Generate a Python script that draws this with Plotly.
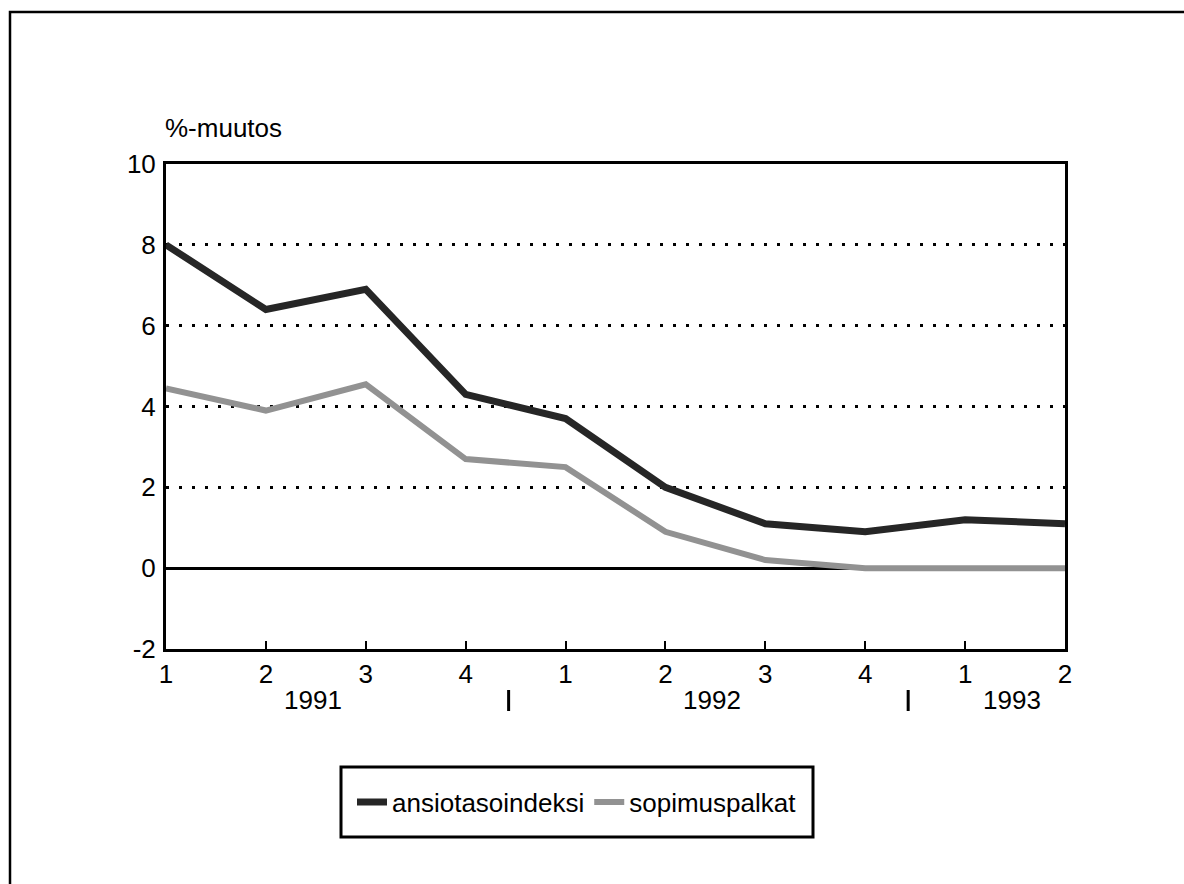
import plotly.graph_objects as go

# ---- data ----
quarters = ["1", "2", "3", "4", "1", "2", "3", "4", "1", "2"]
years = ["1991", "1992", "1993"]
ansiotasoindeksi = [8.0, 6.4, 6.9, 4.3, 3.7, 2.0, 1.1, 0.9, 1.2, 1.1]
sopimuspalkat = [4.45, 3.9, 4.55, 2.7, 2.5, 0.9, 0.2, 0.0, 0.0, 0.0]
y_ticks = [-2, 0, 2, 4, 6, 8, 10]
y_ticklabels = ["-2", "0", "2", "4", "6", "8", "10"]
y_title = "%-muutos"

xpos = list(range(len(quarters)))

FONT = "Liberation Sans, Arial, Helvetica, sans-serif"

# plot area in pixels
W, H = 1184, 884
L, R, T, B = 166, 1065, 164, 649
pw, ph = R - L, B - T


def px(xp):
    return (xp - L) / pw


def py(yp):
    return (B - yp) / ph


fig = go.Figure()
fig.add_trace(go.Scatter(
    x=xpos, y=ansiotasoindeksi, mode="lines", name="ansiotasoindeksi",
    line=dict(color="#262626", width=7),
))
fig.add_trace(go.Scatter(
    x=xpos, y=sopimuspalkat, mode="lines", name="sopimuspalkat",
    line=dict(color="#929292", width=6),
))

fig.update_layout(
    width=W, height=H,
    margin=dict(l=L, r=W - R, t=T, b=H - B, pad=0),
    paper_bgcolor="white", plot_bgcolor="white",
    font=dict(family=FONT, size=26, color="black"),
    showlegend=True,
    legend=dict(
        orientation="h", x=px(577), xanchor="center", y=py(802), yanchor="middle",
        bgcolor="rgba(0,0,0,0)", borderwidth=0,
        font=dict(size=26, family=FONT), itemwidth=30, traceorder="normal",
    ),
    xaxis=dict(
        range=[0, len(quarters) - 1], tickvals=xpos, ticktext=quarters,
        ticks="inside", ticklen=8, tickwidth=2, tickcolor="black",
        showline=True, linewidth=3, linecolor="black", mirror=True,
        showgrid=False, zeroline=False, ticklabelstandoff=0,
        tickfont=dict(size=26),
    ),
    yaxis=dict(
        range=[-2, 10], tickvals=y_ticks, ticktext=y_ticklabels, ticks="",
        showline=True, linewidth=3, linecolor="black", mirror=True,
        showgrid=True, gridcolor="black", gridwidth=2.5, griddash="3px,10px",
        zeroline=True, zerolinecolor="black", zerolinewidth=3,
        ticklabelstandoff=2, tickfont=dict(size=26),
    ),
)

# axis title "%-muutos"
fig.add_annotation(
    text=y_title, xref="paper", yref="paper", x=px(163), y=py(128),
    xanchor="left", yanchor="middle", showarrow=False, font=dict(size=26),
)

# year labels and separators under the quarter ticks
year_x = [1.47, 5.47, 8.47]
for yr, xv in zip(years, year_x):
    fig.add_annotation(text=yr, x=xv, xref="x", y=py(700), yref="paper",
                       showarrow=False, xanchor="center", yanchor="middle",
                       font=dict(size=26))
for xv in [3.43, 7.43]:
    fig.add_shape(type="line", xref="x", yref="paper", x0=xv, x1=xv,
                  y0=py(690), y1=py(711), line=dict(color="black", width=3))

# legend box
fig.add_shape(type="rect", xref="paper", yref="paper",
              x0=px(341), x1=px(813), y0=py(767), y1=py(837),
              line=dict(color="black", width=3), fillcolor="rgba(0,0,0,0)")

# outer frame
fig.add_shape(type="rect", xref="paper", yref="paper",
              x0=px(10), x1=px(1195), y0=py(12), y1=py(895),
              line=dict(color="black", width=2.5), fillcolor="rgba(0,0,0,0)")

fig.write_html("out.html", config={"displayModeBar": False},
               post_script="document.body.style.margin='0px';")
